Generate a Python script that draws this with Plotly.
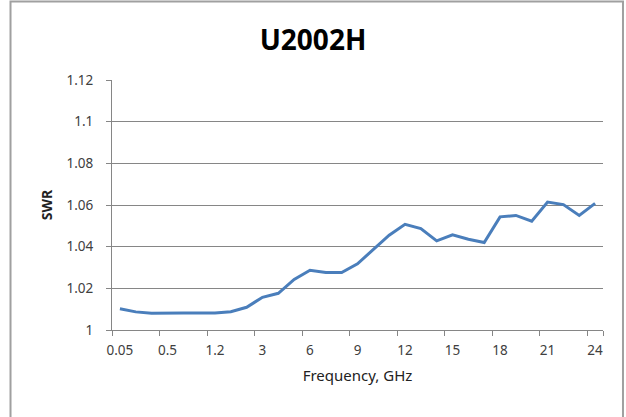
import plotly.graph_objects as go

# frequency points (GHz) - only every third one is labelled on the chart
freq = ["0.05", "0.1", "0.3", "0.5", "0.7", "0.9", "1.2", "1.5", "2",
        "3", "4", "5", "6", "7", "8", "9", "10", "11", "12", "13", "14",
        "15", "16", "17", "18", "19", "20", "21", "22", "23", "24"]
swr = [1.0102, 1.0087, 1.0080, 1.0082, 1.0082, 1.0082, 1.0082, 1.0088, 1.0109,
       1.0157, 1.0176, 1.0243, 1.0287, 1.0276, 1.0276, 1.0318, 1.0385, 1.0455,
       1.0507, 1.0487, 1.0428, 1.0457, 1.0436, 1.0420, 1.0543, 1.0550, 1.0522,
       1.0614, 1.0602, 1.0550, 1.0608]
tick_labels = ["0.05", "0.5", "1.2", "3", "6", "9", "12", "15", "18", "21", "24"]
y_ticks = [1, 1.02, 1.04, 1.06, 1.08, 1.1, 1.12]
y_labels = ["1", "1.02", "1.04", "1.06", "1.08", "1.1", "1.12"]

font = "Noto Sans"
grey = "#868686"

fig = go.Figure()
fig.add_trace(go.Scatter(x=freq, y=swr, mode="lines",
                         line=dict(color="#4a7ebb", width=3)))

fig.update_layout(
    width=626, height=417,
    margin=dict(l=112, r=23, t=80, b=87),
    paper_bgcolor="white", plot_bgcolor="white",
    showlegend=False,
    font=dict(family=font, size=13.5, color="#404040"),
    title=dict(text="<b>U2002H</b>", x=0.5, xanchor="center",
               y=0.904, yanchor="middle",
               font=dict(family=font, size=28, color="black")),
)
# Excel-style category axis: points sit between the tick marks
fig.update_xaxes(
    type="category", range=[-0.5, len(freq) - 0.5],
    tickmode="array", tickvals=tick_labels, ticktext=tick_labels,
    tickangle=0, tickson="boundaries", ticks="outside", ticklen=5, tickcolor=grey,
    ticklabelstandoff=8,
    showline=True, linecolor=grey, linewidth=1, showgrid=False,
    title=dict(text="Frequency, GHz", font=dict(size=15, color="#222222"), standoff=12),
)
fig.update_yaxes(
    range=[1, 1.12], tickmode="array", tickvals=y_ticks, ticktext=y_labels,
    ticks="outside", ticklen=5, tickcolor=grey, ticklabelstandoff=10,
    showline=True, linecolor=grey, linewidth=1,
    showgrid=True, gridcolor=grey, gridwidth=1, zeroline=False,
    title=dict(text="<b>SWR</b>", font=dict(size=14, color="#222222"), standoff=10),
)

# chart-area border (Excel style), runs off the bottom of the picture
fig.add_shape(type="path", xref="paper", yref="paper",
              path="M -0.2067,-0.5 L -0.2067,1.314 L 1.0407,1.314 L 1.0407,-0.5",
              line=dict(color="#a0a0a0", width=2))

# drop the browser's default 8px page margin so the figure sits at (0, 0)
fig.write_html("out.html", config={"displayModeBar": False},
               post_script="document.body.style.margin='0';")
